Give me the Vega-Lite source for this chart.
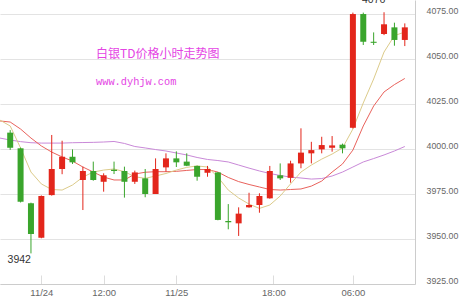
{
  "$schema": "https://vega.github.io/schema/vega-lite/v6.json",
  "width": 415,
  "height": 284,
  "autosize": {"type": "none"},
  "padding": {"left": 0, "top": 0, "right": 45, "bottom": 16},
  "background": "white",
  "config": {
    "view": {"stroke": null},
    "font": "Liberation Sans",
    "axis": {"labelFont": "Liberation Sans", "labelColor": "#666666", "labelFontSize": 9.5}
  },
  "datasets": {
    "k": [
      {"i": 0, "open": 4009.1, "close": 4000.7, "high": 4010.5, "low": 3999.5},
      {"i": 1, "open": 4000.4, "close": 3970.7, "high": 4000.8, "low": 3970.3},
      {"i": 2, "open": 3969.8, "close": 3952.8, "high": 3970.2, "low": 3942},
      {"i": 3, "open": 3950.7, "close": 3973.9, "high": 3974.2, "low": 3950.4},
      {"i": 4, "open": 3974.4, "close": 3988.9, "high": 4007.8, "low": 3974.1},
      {"i": 5, "open": 3988.9, "close": 3995.7, "high": 4004.6, "low": 3986},
      {"i": 6, "open": 3995.7, "close": 3992.6, "high": 3999.8, "low": 3991.7},
      {"i": 7, "open": 3982.8, "close": 3987.8, "high": 3990.2, "low": 3966.1},
      {"i": 8, "open": 3987.8, "close": 3982.8, "high": 3993, "low": 3982.4},
      {"i": 9, "open": 3981.8, "close": 3985.4, "high": 3986.5, "low": 3976.3},
      {"i": 10, "open": 3988.5, "close": 3987.8, "high": 3993, "low": 3986.1},
      {"i": 11, "open": 3987.8, "close": 3981.8, "high": 3990.2, "low": 3973},
      {"i": 12, "open": 3981.8, "close": 3987, "high": 3988, "low": 3980.6},
      {"i": 13, "open": 3983.7, "close": 3975, "high": 3988.9, "low": 3973.2},
      {"i": 14, "open": 3975, "close": 3988.9, "high": 3994.8, "low": 3975},
      {"i": 15, "open": 3989.8, "close": 3994.8, "high": 3997.6, "low": 3987.4},
      {"i": 16, "open": 3994.8, "close": 3992.6, "high": 3998.7, "low": 3990},
      {"i": 17, "open": 3993, "close": 3990.7, "high": 3997.6, "low": 3990.5},
      {"i": 18, "open": 3990.6, "close": 3984.6, "high": 3990.8, "low": 3982.4},
      {"i": 19, "open": 3986.8, "close": 3988.9, "high": 3990.6, "low": 3984.6},
      {"i": 20, "open": 3987, "close": 3960.6, "high": 3987.2, "low": 3960.4},
      {"i": 21, "open": 3960, "close": 3959.3, "high": 3969.4, "low": 3955.4},
      {"i": 22, "open": 3958.7, "close": 3964.1, "high": 3967.6, "low": 3951.7},
      {"i": 23, "open": 3967.6, "close": 3968.9, "high": 3975.7, "low": 3967.4},
      {"i": 24, "open": 3968.9, "close": 3973.9, "high": 3975.4, "low": 3964.6},
      {"i": 25, "open": 3972.6, "close": 3987.8, "high": 3990.6, "low": 3972.4},
      {"i": 26, "open": 3985.4, "close": 3983.7, "high": 3992, "low": 3982.8},
      {"i": 27, "open": 3984, "close": 3992, "high": 3993.5, "low": 3981.3},
      {"i": 28, "open": 3992, "close": 3998, "high": 4011.5, "low": 3989.3},
      {"i": 29, "open": 3997.6, "close": 3999.4, "high": 4004, "low": 3992},
      {"i": 30, "open": 3999.8, "close": 4002.2, "high": 4006.8, "low": 3997.6},
      {"i": 31, "open": 4000.7, "close": 4002, "high": 4007.2, "low": 3998.5},
      {"i": 32, "open": 4002.4, "close": 4000.4, "high": 4003, "low": 3997.6},
      {"i": 33, "open": 4011.8, "close": 4075, "high": 4075.8, "low": 4011.4},
      {"i": 34, "open": 4075, "close": 4059.6, "high": 4075.8, "low": 4057.8},
      {"i": 35, "open": 4059.6, "close": 4059.0, "high": 4064.8, "low": 4057.8},
      {"i": 36, "open": 4063.9, "close": 4069.3, "high": 4076, "low": 4063.3},
      {"i": 37, "open": 4067.6, "close": 4060.6, "high": 4070.2, "low": 4057.4},
      {"i": 38, "open": 4060.6, "close": 4067.6, "high": 4069.8, "low": 4057.2}
    ],
    "ma": [
      {"i": -1, "ma5": 4016.1, "ma10": 4015.6, "ma20": 4006.1},
      {"i": 0, "ma5": 4012.8, "ma10": 4015.0, "ma20": 4005.0},
      {"i": 1, "ma5": 4000.6, "ma10": 4011.1, "ma20": 4004.1},
      {"i": 2, "ma5": 3987.2, "ma10": 4006.1, "ma20": 4003.5},
      {"i": 3, "ma5": 3980.6, "ma10": 4001.7, "ma20": 4003.3},
      {"i": 4, "ma5": 3977.5, "ma10": 3998.3, "ma20": 4003.3},
      {"i": 5, "ma5": 3977.2, "ma10": 3995.6, "ma20": 4003.3},
      {"i": 6, "ma5": 3980.0, "ma10": 3993.3, "ma20": 4003.5},
      {"i": 7, "ma5": 3984.4, "ma10": 3990.0, "ma20": 4003.6},
      {"i": 8, "ma5": 3987.2, "ma10": 3987.2, "ma20": 4003.7},
      {"i": 9, "ma5": 3988.3, "ma10": 3984.4, "ma20": 4003.9},
      {"i": 10, "ma5": 3988.9, "ma10": 3982.8, "ma20": 4004.2},
      {"i": 11, "ma5": 3987.4, "ma10": 3982.8, "ma20": 4003.1},
      {"i": 12, "ma5": 3984.6, "ma10": 3986.1, "ma20": 4001.4},
      {"i": 13, "ma5": 3983.7, "ma10": 3987.1, "ma20": 4000.6},
      {"i": 14, "ma5": 3985.0, "ma10": 3987.4, "ma20": 3999.7},
      {"i": 15, "ma5": 3986.4, "ma10": 3987.4, "ma20": 3998.9},
      {"i": 16, "ma5": 3988.3, "ma10": 3987.6, "ma20": 3997.8},
      {"i": 17, "ma5": 3989.8, "ma10": 3988.1, "ma20": 3996.7},
      {"i": 18, "ma5": 3990.6, "ma10": 3988.6, "ma20": 3995.3},
      {"i": 19, "ma5": 3990.0, "ma10": 3988.6, "ma20": 3994.2},
      {"i": 20, "ma5": 3984.4, "ma10": 3987.2, "ma20": 3993.6},
      {"i": 21, "ma5": 3977.2, "ma10": 3984.2, "ma20": 3992.8},
      {"i": 22, "ma5": 3972.8, "ma10": 3981.9, "ma20": 3991.1},
      {"i": 23, "ma5": 3969.4, "ma10": 3980.3, "ma20": 3989.4},
      {"i": 24, "ma5": 3967.0, "ma10": 3978.9, "ma20": 3987.8},
      {"i": 25, "ma5": 3968.9, "ma10": 3977.5, "ma20": 3986.4},
      {"i": 26, "ma5": 3973.9, "ma10": 3977.2, "ma20": 3985.3},
      {"i": 27, "ma5": 3980.6, "ma10": 3977.5, "ma20": 3984.4},
      {"i": 28, "ma5": 3987.2, "ma10": 3977.8, "ma20": 3983.9},
      {"i": 29, "ma5": 3991.1, "ma10": 3979.4, "ma20": 3983.3},
      {"i": 30, "ma5": 3994.4, "ma10": 3982.2, "ma20": 3983.6},
      {"i": 31, "ma5": 3997.2, "ma10": 3987.2, "ma20": 3985.0},
      {"i": 32, "ma5": 4000.6, "ma10": 3991.7, "ma20": 3987.2},
      {"i": 33, "ma5": 4011.1, "ma10": 3999.4, "ma20": 3990.0},
      {"i": 34, "ma5": 4025.6, "ma10": 4012.8, "ma20": 3992.8},
      {"i": 35, "ma5": 4038.9, "ma10": 4023.9, "ma20": 3994.7},
      {"i": 36, "ma5": 4053.9, "ma10": 4031.7, "ma20": 3996.7},
      {"i": 37, "ma5": 4063.0, "ma10": 4035.8, "ma20": 3998.9},
      {"i": 38, "ma5": 4065.0, "ma10": 4039.2, "ma20": 4001.4}
    ]
  },
  "encoding": {
    "x": {
      "type": "quantitative",
      "scale": {"domain": [-0.5, 38.5], "nice": false, "zero": false},
      "axis": {
        "title": null,
        "grid": false,
        "values": [3, 9, 16, 25.35, 33],
        "labelExpr": "datum.value == 3 ? '11/24' : datum.value == 9 ? '12:00' : datum.value == 16 ? '11/25' : datum.value < 30 ? '18:00' : '06:00'",
        "domainColor": "#cccccc",
        "tickColor": "#dddddd",
        "tickSize": -9,
        "labelPadding": 12,
        "labelFlush": false,
        "labelOverlap": false
      }
    }
  },
  "layer": [
    {
      "data": {"name": "ma"},
      "mark": {"type": "line", "color": "#c989d8", "strokeWidth": 1, "clip": true},
      "encoding": {
        "x": {"field": "i", "type": "quantitative"},
        "y": {
          "field": "ma20", "type": "quantitative",
          "scale": {"domain": [3925, 4082.8], "nice": false, "zero": false},
          "axis": {
            "orient": "right",
            "title": null,
            "values": [3925, 3950, 3975, 4000, 4025, 4050, 4075],
            "format": ".2f",
            "grid": true,
            "gridColor": "#e3e3e3",
            "domain": true,
            "domainColor": "#cccccc",
            "ticks": false,
            "labelPadding": 11,
            "labelFontSize": 8.8,
            "labelBaseline": "alphabetic",
            "labelOffset": -1
          }
        }
      }
    },
    {
      "data": {"name": "ma"},
      "mark": {"type": "line", "color": "#e9625c", "strokeWidth": 1, "clip": true},
      "encoding": {
        "x": {"field": "i", "type": "quantitative"},
        "y": {"field": "ma10", "type": "quantitative"}
      }
    },
    {
      "data": {"name": "ma"},
      "mark": {"type": "line", "color": "#dccb8a", "strokeWidth": 1, "clip": true},
      "encoding": {
        "x": {"field": "i", "type": "quantitative"},
        "y": {"field": "ma5", "type": "quantitative"}
      }
    },
    {
      "data": {"name": "k"},
      "mark": {"type": "rule", "strokeWidth": 1},
      "encoding": {
        "x": {"field": "i", "type": "quantitative"},
        "y": {"field": "low", "type": "quantitative"},
        "y2": {"field": "high"},
        "color": {"condition": {"test": "datum.close > datum.open", "value": "#e3261b"}, "value": "#3aa52c"}
      }
    },
    {
      "data": {"name": "k"},
      "mark": {"type": "bar", "width": 6},
      "encoding": {
        "x": {"field": "i", "type": "quantitative"},
        "y": {"field": "open", "type": "quantitative"},
        "y2": {"field": "close"},
        "color": {"condition": {"test": "datum.close > datum.open", "value": "#e3261b"}, "value": "#3aa52c"}
      }
    },
    {
      "data": {"values": [{"i": 2, "v": 3942, "t": "3942"}]},
      "mark": {"type": "text", "align": "right", "baseline": "top", "dy": 2, "fontSize": 10.5, "color": "#333333", "font": "Liberation Sans"},
      "encoding": {
        "x": {"field": "i", "type": "quantitative"},
        "y": {"field": "v", "type": "quantitative"},
        "text": {"field": "t"}
      }
    },
    {
      "data": {"values": [{"i": 35, "v": 4076, "t": "4076"}]},
      "mark": {"type": "text", "align": "center", "baseline": "alphabetic", "dy": -9.5, "fontSize": 10.5, "color": "#333333", "font": "Liberation Sans"},
      "encoding": {
        "x": {"field": "i", "type": "quantitative"},
        "y": {"field": "v", "type": "quantitative"},
        "text": {"field": "t"}
      }
    },
    {
      "data": {"values": [
        {"i": 8.27, "v": 4052.8, "t": "白银TD价格小时走势图", "kind": "title"}
      ]},
      "mark": {"type": "text", "align": "left", "baseline": "middle", "fontSize": 12, "color": "#e444e4", "font": "Noto Sans CJK SC"},
      "encoding": {
        "x": {"field": "i", "type": "quantitative"},
        "y": {"field": "v", "type": "quantitative"},
        "text": {"field": "t"}
      }
    },
    {
      "data": {"values": [
        {"i": 8.27, "v": 4037.4, "t": "www.dyhjw.com", "kind": "url"}
      ]},
      "mark": {"type": "text", "align": "left", "baseline": "middle", "fontSize": 10.3, "color": "#e444e4", "font": "Liberation Mono"},
      "encoding": {
        "x": {"field": "i", "type": "quantitative"},
        "y": {"field": "v", "type": "quantitative"},
        "text": {"field": "t"}
      }
    }
  ]
}
